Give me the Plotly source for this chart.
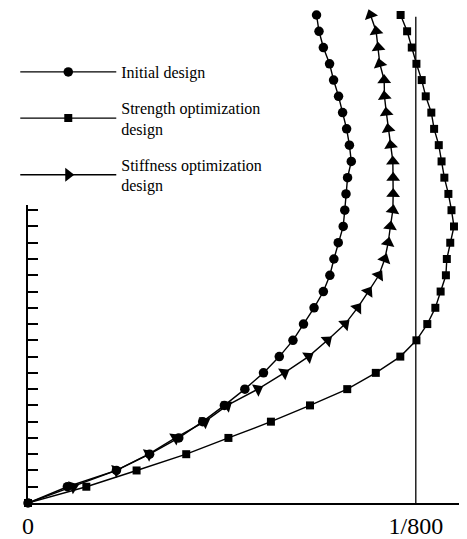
import plotly.graph_objects as go

# Storey number (0 = ground) and inter-storey drift (units of 1e-4 rad)
floors = list(range(0, 31))
initial = [0, 1.27, 2.85, 3.92, 4.86, 5.63, 6.33, 6.99, 7.59, 8.10, 8.54, 8.88, 9.22, 9.52, 9.73,
           9.86, 10.00, 10.16, 10.21, 10.25, 10.30, 10.42, 10.36, 10.27, 10.14, 10.01, 9.85, 9.72,
           9.52, 9.38, 9.30]
strength = [0, 1.88, 3.50, 5.10, 6.46, 7.83, 9.09, 10.29, 11.21, 12.00, 12.52, 12.87, 13.13, 13.30,
            13.47, 13.50, 13.61, 13.73, 13.65, 13.55, 13.42, 13.33, 13.24, 13.09, 13.00, 12.82,
            12.69, 12.52, 12.37, 12.22, 12.01]
stiffness = [0, 1.46, 2.85, 3.89, 4.75, 5.70, 6.42, 7.41, 8.26, 9.04, 9.65, 10.22, 10.62, 10.97,
             11.31, 11.50, 11.61, 11.68, 11.76, 11.77, 11.77, 11.76, 11.69, 11.61, 11.55, 11.49,
             11.48, 11.34, 11.29, 11.22, 11.04]
LIMIT = 12.5  # 1/800
limit_top = 29.9
x_ticks = [0, LIMIT]
x_ticktext = ["0", "1/800"]
y_ticks = list(range(1, 19))
names = ["Initial design", "Strength optimization<br>design", "Stiffness optimization<br>design"]

FONT = "Liberation Serif"

fig = go.Figure()
fig.add_trace(go.Scatter(x=[LIMIT, LIMIT], y=[0, limit_top], mode="lines",
                         line=dict(color="black", width=1.3), showlegend=False, hoverinfo="skip"))
styles = [("circle", 9.5, initial), ("square", 8, strength), ("triangle-up", 12, stiffness)]
for i, (name, (sym, sz, vals)) in enumerate(zip(names, styles)):
    fig.add_trace(go.Scatter(
        x=vals, y=floors, mode="lines+markers", name=name, cliponaxis=False,
        legendgroup=f"g{i}",
        line=dict(color="black", width=1.4),
        marker=dict(symbol=sym, size=sz, color="black",
                    angleref="previous" if sym.startswith("triangle") else "up"),
    ))
# helper trace for the short y-axis with storey ticks
fig.add_trace(go.Scatter(x=[0], y=[0], yaxis="y2", mode="markers", marker=dict(opacity=0),
                         showlegend=False, hoverinfo="skip"))

fig.update_layout(
    width=467, height=539,
    margin=dict(l=12, r=8, t=7, b=44),
    paper_bgcolor="white", plot_bgcolor="rgba(0,0,0,0)",
    font=dict(family=FONT, color="black"),
    xaxis=dict(range=[0, 14.15], showline=True, linecolor="black", linewidth=1.5,
               tickmode="array", tickvals=x_ticks, ticktext=x_ticktext, ticks="",
               showgrid=False, zeroline=False, tickfont=dict(size=24, family=FONT)),
    yaxis=dict(range=[0, 30], visible=False, showgrid=False, zeroline=False),
    yaxis2=dict(domain=[0, 0.611], range=[0, 18.33], anchor="x", showline=True,
                linecolor="black", linewidth=1.5, ticks="inside", ticklen=10, tickwidth=1.5,
                tickcolor="black", tickmode="array", tickvals=y_ticks, showticklabels=False,
                showgrid=False, zeroline=False),
    legend=dict(x=-0.029, y=0.918, xanchor="left", yanchor="top", bgcolor="rgba(0,0,0,0)",
                font=dict(size=16, family=FONT), itemwidth=96, valign="middle",
                tracegroupgap=12),
    showlegend=True,
)
fig.write_html("out.html")
